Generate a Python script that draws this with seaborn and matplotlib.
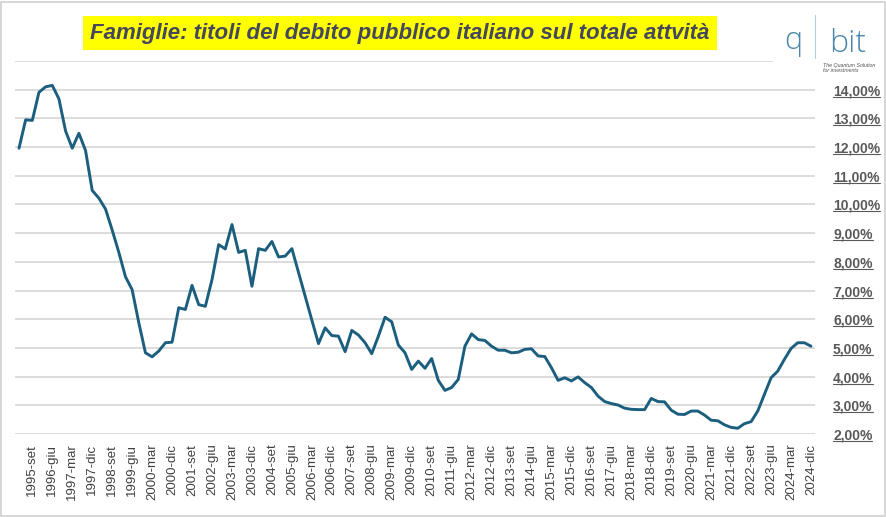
import matplotlib
matplotlib.use("Agg")
import matplotlib.pyplot as plt
import matplotlib.patches as mpatches
import numpy as np
import pandas as pd
import seaborn as sns

# quarterly share (%) of Italian government bonds on total household assets, 1995-mar .. 2024-dic
mesi = ["mar", "giu", "set", "dic"]
periodi = ["%d-%s" % (y, m) for y in range(1995, 2025) for m in mesi]

quota = [
    11.96, 12.95, 12.93, 13.91, 14.10, 14.15, 13.68, 12.56, 11.96, 12.48,
    11.88, 10.49, 10.22, 9.84, 9.11, 8.33, 7.48, 7.03, 5.88, 4.83,
    4.69, 4.89, 5.18, 5.20, 6.40, 6.34, 7.18, 6.51, 6.45, 7.38,
    8.60, 8.45, 9.30, 8.33, 8.40, 7.15, 8.46, 8.40, 8.71, 8.17,
    8.20, 8.46, 7.63, 6.80, 5.97, 5.15, 5.70, 5.43, 5.41, 4.87,
    5.61, 5.45, 5.18, 4.80, 5.41, 6.07, 5.91, 5.10, 4.83, 4.25,
    4.54, 4.29, 4.63, 3.87, 3.52, 3.62, 3.90, 5.06, 5.49, 5.29,
    5.26, 5.06, 4.92, 4.92, 4.83, 4.85, 4.95, 4.97, 4.72, 4.70,
    4.31, 3.87, 3.96, 3.85, 3.99, 3.79, 3.62, 3.32, 3.13, 3.06,
    3.01, 2.90, 2.86, 2.85, 2.85, 3.24, 3.13, 3.12, 2.83, 2.69,
    2.68, 2.80, 2.80, 2.66, 2.48, 2.46, 2.32, 2.23, 2.20, 2.36,
    2.43, 2.80, 3.38, 3.96, 4.19, 4.60, 4.98, 5.18, 5.18, 5.06,
]

# every third quarter is labelled, starting from 1995-set
tick_labels = periodi[2::3]
y_ticks = list(range(2, 16))

df = pd.DataFrame({"pos": np.arange(len(periodi)), "quota": quota})

sns.set_style("white")
plt.rcParams["font.family"] = ["Liberation Sans", "DejaVu Sans"]

W, H = 887, 517
fig = plt.figure(figsize=(W / 100, H / 100), dpi=100)
ax = fig.add_axes([15 / W, 1 - 434 / H, 800 / W, (434 - 61) / H])

sns.lineplot(data=df, x="pos", y="quota", ax=ax, color="#1B5E7E", linewidth=2.1, zorder=3)

ax.set_xlim(-0.6, len(periodi) - 0.4)
ax.set_ylim(2, 15)
ax.set_xticks(df["pos"][2::3])
ax.set_xticklabels(tick_labels, rotation=90, fontsize=9.5, color="#404040")
ax.set_yticks(y_ticks)
ax.set_yticklabels([("%.2f%%" % v).replace(".", ",") if v < 15 else "" for v in y_ticks],
                   fontsize=10, color="#595959", fontweight="bold")
ax.yaxis.tick_right()
ax.tick_params(axis="both", length=0)
ax.tick_params(axis="y", pad=13)
ax.tick_params(axis="x", pad=7)
ax.grid(axis="y", color="#D9D9D9", linewidth=1.3)
ax.set_axisbelow(True)
for s in ax.spines.values():
    s.set_visible(False)
ax.set_xlabel("")
ax.set_ylabel("")

# underline the percentage labels like the original
fig.canvas.draw()
for lab in ax.get_yticklabels():
    if not lab.get_text():
        continue
    bb = lab.get_window_extent()
    fig.lines.append(plt.Line2D([bb.x0 / W, bb.x1 / W], [(bb.y0 + 1.5) / H] * 2,
                                transform=fig.transFigure, color="#595959", linewidth=0.8))

# title in yellow box
fig.text(400 / W, 1 - 33 / H, "Famiglie: titoli del debito pubblico italiano sul totale attvità",
         ha="center", va="center", fontsize=16, fontweight="bold", fontstyle="italic",
         color="#44485A", family=["Liberation Sans Narrow", "Liberation Sans", "DejaVu Sans"],
         bbox=dict(facecolor="#FFFF00", edgecolor="none", pad=5))

# logo area
fig.patches.append(mpatches.Rectangle((773 / W, 1 - 78 / H), 112 / W, 70 / H,
                                      transform=fig.transFigure, facecolor="white",
                                      edgecolor="none", zorder=5))
logo_font = ["Open Sans", "DejaVu Sans"]
fig.text(793 / W, 1 - 49 / H, "q", ha="center", va="baseline", fontsize=22,
         color="#4A86AA", fontweight="light", family=logo_font, zorder=6)
fig.lines.append(plt.Line2D([815 / W, 815 / W], [1 - 15 / H, 1 - 58 / H],
                            transform=fig.transFigure, color="#B5CCDB", linewidth=0.8, zorder=6))
fig.text(848 / W, 1 - 52 / H, "bit", ha="center", va="baseline", fontsize=23,
         color="#4A86AA", fontweight="light", family=logo_font, zorder=6)
fig.text(823 / W, 1 - 68 / H, "The Quantum Solution\nfor investments", ha="left", va="center",
         fontsize=3.8, fontstyle="italic", color="#555555", linespacing=1.1, zorder=6)

# outer frame
fig.patches.append(mpatches.Rectangle((1 / W, 1 / H), 884 / W, 514 / H,
                                      transform=fig.transFigure, facecolor="none",
                                      edgecolor="#D0D0D0", linewidth=1.2, zorder=10))

fig.savefig("out.png", dpi=100)
